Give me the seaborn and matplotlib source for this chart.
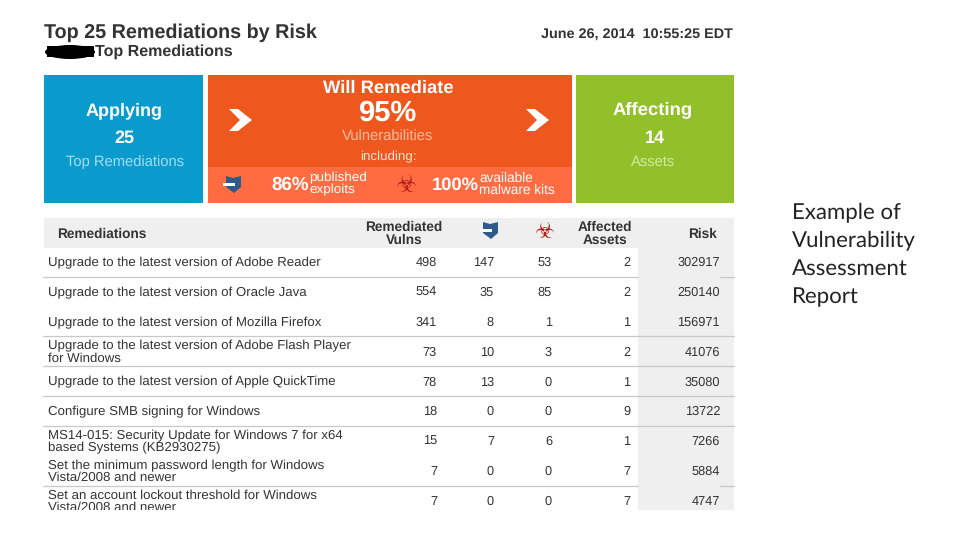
import numpy as np
import pandas as pd
import matplotlib
matplotlib.use("Agg")
import matplotlib.pyplot as plt
from matplotlib.colors import ListedColormap
from matplotlib.patches import Rectangle, Polygon, Ellipse
import seaborn as sns

remediations = [
    "Upgrade to the latest version of Adobe Reader",
    "Upgrade to the latest version of Oracle Java",
    "Upgrade to the latest version of Mozilla Firefox",
    "Upgrade to the latest version of Adobe Flash Player\nfor Windows",
    "Upgrade to the latest version of Apple QuickTime",
    "Configure SMB signing for Windows",
    "MS14-015: Security Update for Windows 7 for x64\nbased Systems (KB2930275)",
    "Set the minimum password length for Windows\nVista/2008 and newer",
    "Set an account lockout threshold for Windows\nVista/2008 and newer",
]
vulns = [498, 554, 341, 73, 78, 18, 15, 7, 7]
exploits = [147, 35, 8, 10, 13, 0, 7, 0, 0]
malware = [53, 85, 1, 3, 0, 0, 6, 0, 0]
assets = [2, 2, 1, 2, 1, 9, 1, 7, 7]
risk = [302917, 250140, 156971, 41076, 35080, 13722, 7266, 5884, 4747]

TEXT = "#333333"
W, H = 960, 540


def axes_px(fig, x0, y0, x1, y1):
    return fig.add_axes([x0 / W, 1 - y1 / H, (x1 - x0) / W, (y1 - y0) / H])


def chevron(ax, cx, cy):
    pts = [(-11, -11), (-2, -11), (12, 0), (-2, 11), (-11, 11), (0, 0)]
    ax.add_patch(Polygon([(cx + a, cy + b) for a, b in pts], color="white", lw=0, zorder=3))


def shield(ax, cx, cy):
    pts = [(-7, -8), (0, -6), (8, -8), (8, 3), (1, 9), (-7, 3)]
    ax.add_patch(Polygon([(cx + a, cy + b) for a, b in pts], color="#2d5c8c", lw=0, zorder=3))
    ax.add_patch(Rectangle((cx - 10, cy - 1.5), 12, 3, color="white", lw=0, zorder=4))


sns.set_theme(style="white")
plt.rcParams["font.family"] = ["Liberation Sans", "DejaVu Sans"]
plt.rcParams["text.hinting"] = "no_hinting"

fig = plt.figure(figsize=(9.6, 5.4), dpi=100, facecolor="white")
ax = fig.add_axes([0, 0, 1, 1])
ax.set_xlim(0, W)
ax.set_ylim(H, 0)
ax.axis("off")

# ── header ──────────────────────────────────────────────────────────────
ax.text(44, 33, "Top 25 Remediations by Risk", fontsize=14.2, fontweight="bold",
        color=TEXT, va="center")
ax.text(733, 34, "June 26, 2014  10:55:25 EDT", fontsize=10.4, fontweight="bold",
        color=TEXT, va="center", ha="right")
ax.add_patch(Ellipse((70, 52), 50, 14, color="black", lw=0))
ax.add_patch(Rectangle((47, 46), 47, 11, color="black", lw=0))
ax.text(95, 52, "Top Remediations", fontsize=11.5, fontweight="bold", color=TEXT, va="center")

# ── summary tiles ───────────────────────────────────────────────────────
ax.add_patch(Rectangle((44, 75), 159, 128, color="#0a9bcd", lw=0))
ax.add_patch(Rectangle((208, 75), 364, 92, color="#ee581f", lw=0))
ax.add_patch(Rectangle((208, 167), 364, 36, color="#ff6c42", lw=0))
ax.add_patch(Rectangle((576, 75), 158, 128, color="#92c02a", lw=0))

ax.text(124, 111, "Applying", fontsize=13, fontweight="bold", color="white", ha="center", va="center")
ax.text(124, 138, "25", fontsize=13, fontweight="bold", color="white", ha="center", va="center")
ax.text(125, 162, "Top Remediations", fontsize=10.6, color="#a5dcef", ha="center", va="center")

ax.text(388, 88, "Will Remediate", fontsize=13.2, fontweight="bold", color="white", ha="center", va="center")
ax.text(388, 113, "95%", fontsize=21, fontweight="bold", color="white", ha="center", va="center")
ax.text(388, 137, "Vulnerabilities", fontsize=10.6, color="#f9b9a0", ha="center", va="center")
ax.text(388, 157, "including:", fontsize=9.6, color="#fde3d8", ha="center", va="center")
chevron(ax, 240, 120)
chevron(ax, 537, 120)

shield(ax, 233, 184)
ax.text(290, 185, "86%", fontsize=13.5, fontweight="bold", color="white", ha="center", va="center")
ax.text(309, 178, "published", fontsize=9.7, color="white", va="center")
ax.text(309, 190, "exploits", fontsize=9.7, color="white", va="center")
ax.text(406, 185, "\u2623", fontsize=17, color="#b3201c", ha="center", va="center",
        family=["DejaVu Sans"])
ax.text(455, 185, "100%", fontsize=13.2, fontweight="bold", color="white", ha="center", va="center")
ax.text(479, 178, "available", fontsize=9.8, color="white", va="center")
ax.text(479, 190, "malware kits", fontsize=9.8, color="white", va="center")

ax.text(653, 110, "Affecting", fontsize=13.3, fontweight="bold", color="white", ha="center", va="center")
ax.text(655, 138, "14", fontsize=13, fontweight="bold", color="white", ha="center", va="center")
ax.text(653, 162, "Assets", fontsize=10.6, color="#d3e9a4", ha="center", va="center")

# ── table header ────────────────────────────────────────────────────────
ax.add_patch(Rectangle((44, 218), 690, 30, color="#efefef", lw=0))
ax.text(57, 234, "Remediations", fontsize=9.8, fontweight="bold", color=TEXT, va="center")
ax.text(404, 234, "Remediated\nVulns", fontsize=9.8, fontweight="bold", color=TEXT,
        ha="center", va="center", linespacing=1.0)
ax.text(605, 234, "Affected\nAssets", fontsize=9.8, fontweight="bold", color=TEXT,
        ha="center", va="center", linespacing=1.0)
ax.text(702, 234, "Risk", fontsize=9.8, fontweight="bold", color=TEXT, ha="center", va="center")
shield(ax, 490, 230)
ax.text(545, 232, "\u2623", fontsize=16, color="#b3201c", ha="center", va="center",
        family=["DejaVu Sans"])

# ── risk column, one heatmap cell per row ───────────────────────────────
risk_ax = axes_px(fig, 638, 248, 734, 510)
table = pd.DataFrame({"Risk": risk})
sns.heatmap(table, cmap=ListedColormap(["#efefef"]), cbar=False, ax=risk_ax,
            xticklabels=False, yticklabels=False)
risk_ax.set_ylabel("")
risk_ax.patch.set_visible(False)
ax.set_zorder(2)
ax.patch.set_visible(False)

# ── table rows ──────────────────────────────────────────────────────────
for i, name in enumerate(remediations):
    y = 263 + 29.8 * i
    ax.text(48, y, name, fontsize=9.5, color=TEXT, va="center", linespacing=1.0)
    ax.text(437, y, vulns[i], fontsize=9.2, color=TEXT, ha="right", va="center")
    ax.text(494, y, exploits[i], fontsize=9.2, color=TEXT, ha="right", va="center")
    ax.text(552, y, malware[i], fontsize=9.2, color=TEXT, ha="right", va="center")
    ax.text(630, y, assets[i], fontsize=9.2, color=TEXT, ha="right", va="center")
    ax.text(720, y, risk[i], fontsize=9.2, color=TEXT, ha="right", va="center")

for y in [277, 336, 366, 396, 426, 486]:
    right = 734 if y in (336, 366, 396, 426) else 638
    ax.plot([43, right], [y, y], color="#c8c8c8", lw=0.9)
    if right == 638:
        ax.plot([720, 734], [y, y], color="#c8c8c8", lw=0.9)

# the screenshot is cut off under the last row
ax.add_patch(Rectangle((40, 510), 700, 12, color="white", lw=0, zorder=5))

# ── side caption ────────────────────────────────────────────────────────
ax.text(792, 254.5, "Example of\nVulnerability\nAssessment\nReport", fontsize=16,
        color="#222222", va="center", linespacing=1.5, family=["Lato", "DejaVu Sans"])

fig.savefig("out.png", dpi=100)
